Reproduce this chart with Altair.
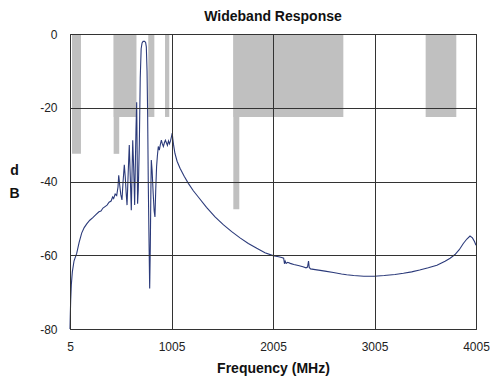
import altair as alt
import pandas as pd

# Response curve (MHz, dB)
freq = [5, 8, 12, 18, 28, 45, 71, 95, 120, 145, 170, 200, 230, 260, 290, 310, 330, 350,
        370, 390, 410, 425, 435, 450, 465, 478, 485, 495, 505, 517, 528, 540, 550, 558,
        567, 578, 589, 598, 609, 616, 623, 632, 642, 649, 655, 662, 666, 671, 678, 688,
        697, 706, 715, 725, 740, 750, 757, 764, 770, 776, 783, 790, 796, 802, 806, 814,
        824, 834, 842, 850, 858, 866, 875, 885, 895, 905, 915, 925, 935, 945, 955, 965,
        975, 985, 995, 1005, 1012, 1018, 1025, 1039, 1060, 1089, 1130, 1171, 1220, 1269,
        1350, 1434, 1515, 1598, 1680, 1762, 1845, 1926, 2005, 2060, 2091, 2110, 2118,
        2125, 2135, 2150, 2175, 2210, 2254, 2300, 2330, 2345, 2355, 2362, 2375, 2420,
        2470, 2517, 2600, 2680, 2731, 2800, 2900, 3003, 3100, 3207, 3290, 3371, 3450,
        3535, 3620, 3700, 3750, 3798, 3840, 3880, 3915, 3946, 3970, 3990, 4005]
db = [-80, -76, -72, -68, -64.5, -61.5, -59.5, -56.5, -54, -52.5, -51.5, -50.5, -49.8,
      -49, -48.2, -48, -47.2, -46.8, -46.4, -45.6, -45.3, -44.2, -44.6, -43.4, -43.8,
      -41.5, -38.3, -41, -43.5, -45, -40, -35.5, -39, -43, -46.4, -38, -30.1, -38, -47.8,
      -38, -28.8, -36, -46.4, -35, -26, -18.5, -30, -46, -42, -30, -12, -4, -2.4, -2,
      -2, -2.3, -3.5, -10, -22, -40, -55, -69, -58, -42, -34.2, -37, -43, -48, -49.6,
      -42, -36, -33, -30.5, -31.5, -30, -28.8, -29.8, -30.5, -29.5, -28.8, -29.5, -30.2,
      -29, -29.8, -29, -27.8, -26.9, -28.5, -30, -32.4, -34.5, -36.4, -38.6, -40.5,
      -42.5, -44.2, -47, -49.6, -51.7, -53.6, -55.3, -56.8, -58.1, -59.3, -60.1, -60.4,
      -60.6, -60.8, -62.3, -61.6, -62.2, -61.9, -62.2, -62.5, -62.8, -63.1, -63.4,
      -63.2, -61.6, -63.3, -63.7, -63.9, -64.1, -64.3, -64.7, -65.1, -65.3, -65.5,
      -65.7, -65.7, -65.5, -65.2, -64.9, -64.5, -64.0, -63.4, -62.7, -61.6, -60.8,
      -59.8, -58.5, -56.8, -55.6, -54.8, -55.3, -56.3, -57.3]

# Spec mask blocks (MHz start/end, dB top/bottom)
mask_start = [25, 435, 435, 776, 941, 1614, 1614, 3509]
mask_end = [113, 660, 490, 836, 983, 2698, 1673, 3811]
mask_top = [0, 0, 0, 0, 0, 0, 0, 0]
mask_bottom = [-32.5, -22.5, -32.5, -22.5, -22.5, -22.5, -47.5, -22.5]

x_ticks = [5, 1005, 2005, 3005, 4005]
y_ticks = [-80, -60, -40, -20, 0]

curve = pd.DataFrame({"f": freq, "db": db})
mask = pd.DataFrame({"x1": mask_start, "x2": mask_end, "y1": mask_top, "y2": mask_bottom})

font = "Liberation Sans"
xscale = alt.Scale(domain=[5, 4005], nice=False, zero=False)
yscale = alt.Scale(domain=[-80, 0], nice=False)
xaxis = alt.Axis(values=x_ticks, format="d", grid=True, ticks=False, domain=False,
                 labelFontSize=12, labelPadding=12, labelColor="#222", labelFlush=False,
                 title="Frequency (MHz)", titleFontSize=14, titleFontWeight="bold",
                 titleColor="#111", titleY=39, titleBaseline="middle",
                 gridColor="#333", gridWidth=1, gridOpacity=1, zindex=1)
yaxis = alt.Axis(values=y_ticks, grid=True, ticks=False, domain=False,
                 labelExpr="datum.value < 0 ? '-' + abs(datum.value) : '' + datum.value",
                 labelFontSize=12, labelPadding=13, labelColor="#222", labelFlush=False,
                 title=["d", "B"], titleAngle=0, titleAlign="center",
                 titleBaseline="middle", titleX=-56, titleY=136, titleLineHeight=23,
                 titleFontSize=14, titleFontWeight="bold", titleColor="#111",
                 gridColor="#333", gridWidth=1, gridOpacity=1, zindex=1)

rects = alt.Chart(mask).mark_rect(color="#c0c0c0").encode(
    x=alt.X("x1:Q", scale=xscale, axis=xaxis),
    x2="x2:Q",
    y=alt.Y("y1:Q", scale=yscale, axis=yaxis),
    y2="y2:Q",
)

line = alt.Chart(curve).mark_line(color="#2b3a7a", strokeWidth=1.1).encode(
    x=alt.X("f:Q", scale=xscale, axis=xaxis),
    y=alt.Y("db:Q", scale=yscale, axis=yaxis),
)

chart = alt.layer(rects, line).properties(
    width=406, height=295,
    title=alt.TitleParams("Wideband Response", fontSize=14, fontWeight="bold",
                          font=font, color="#111", offset=4),
    autosize=alt.AutoSizeParams(type="none"),
    padding={"left": 62, "top": 26, "right": 14, "bottom": 48},
).configure_view(stroke="#222", strokeWidth=1).configure_axis(
    labelFont=font, titleFont=font
)

chart.save("out.html", embed_options={"renderer": "svg", "actions": False})
